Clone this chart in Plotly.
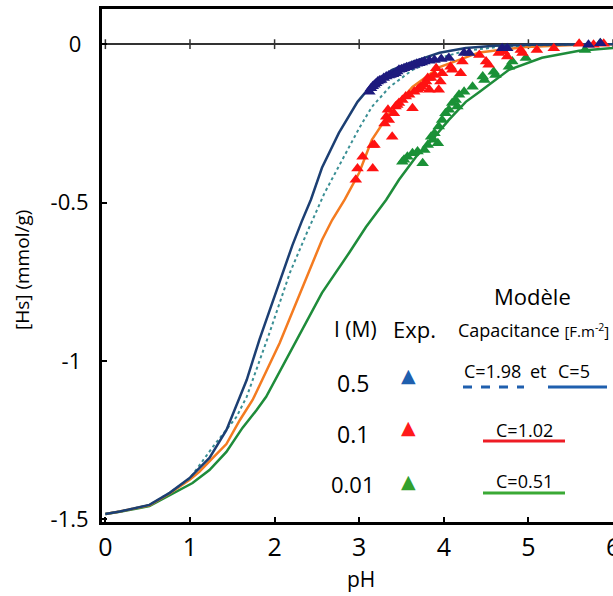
import plotly.graph_objects as go

# ---------------- data ----------------
x_ticks = [0, 1, 2, 3, 4, 5, 6]
x_tick_labels = ["0", "1", "2", "3", "4", "5", "6"]
y_ticks = [-1.5, -1, -0.5, 0]
y_tick_labels = ["-1.5", "-1\u2004", "-0.5", "0\u2004"]

# Model C=5 (I=0.5 M), solid navy
c5_x = [0, 0.17, 0.52, 0.76, 1.0, 1.23, 1.43, 1.55, 1.67, 1.82, 2.06, 2.21, 2.32, 2.43, 2.56,
        2.76, 2.98, 3.06, 3.15, 3.39, 3.63, 3.95, 4.26, 4.6, 5.0, 5.5, 6.0]
c5_y = [-1.483, -1.475, -1.454, -1.416, -1.368, -1.306, -1.218, -1.139, -1.06, -0.933, -0.753,
        -0.635, -0.56, -0.49, -0.39, -0.28, -0.182, -0.155, -0.128, -0.081, -0.056, -0.027,
        -0.012, -0.005, -0.002, -0.001, 0.0]

# Model C=1.98 (I=0.5 M), dotted
c198_x = [0, 0.17, 0.52, 0.76, 1.0, 1.27, 1.55, 1.67, 1.94, 2.18, 2.38, 2.59, 2.75, 2.88, 3.0,
          3.15, 3.36, 3.63, 3.95, 4.26, 4.6, 5.0, 5.5, 6.0]
c198_y = [-1.483, -1.475, -1.454, -1.416, -1.37, -1.271, -1.176, -1.113, -0.911, -0.722, -0.596,
          -0.47, -0.39, -0.324, -0.265, -0.198, -0.135, -0.081, -0.043, -0.021, -0.01, -0.004,
          -0.001, 0.0]

# Model C=1.02 (I=0.1 M), orange
c102_x = [0, 0.17, 0.52, 0.76, 1.0, 1.11, 1.27, 1.43, 1.59, 1.74, 2.06, 2.38, 2.56, 2.68, 2.83,
          3.0, 3.15, 3.36, 3.63, 3.95, 4.26, 4.42, 4.97, 5.6, 6.0]
c102_y = [-1.483, -1.475, -1.455, -1.418, -1.374, -1.35, -1.306, -1.262, -1.186, -1.123, -0.943,
          -0.734, -0.618, -0.555, -0.49, -0.406, -0.302, -0.217, -0.135, -0.072, -0.043, -0.026,
          -0.009, -0.002, 0.0]

# Model C=0.51 (I=0.01 M), green
c051_x = [0, 0.17, 0.52, 0.76, 1.03, 1.23, 1.43, 1.62, 1.79, 1.9, 2.26, 2.56, 2.88, 3.08, 3.32,
          3.47, 3.67, 3.86, 4.06, 4.26, 4.42, 4.77, 5.16, 5.6, 6.0]
c051_y = [-1.483, -1.476, -1.458, -1.424, -1.385, -1.344, -1.287, -1.211, -1.154, -1.113, -0.933,
          -0.785, -0.659, -0.577, -0.491, -0.428, -0.356, -0.302, -0.239, -0.182, -0.151, -0.081,
          -0.043, -0.021, -0.012]

# Experimental points
exp05_x = [3.12, 3.14, 3.16, 3.18, 3.20, 3.22, 3.24, 3.26, 3.29, 3.32, 3.35, 3.37, 3.40, 3.43,
           3.45, 3.47, 3.50, 3.53, 3.56, 3.59, 3.62, 3.65, 3.68, 3.71, 3.74, 3.77, 3.83, 3.89,
           3.97, 4.06, 4.24, 4.30, 4.69, 4.75, 5.71, 5.85]
exp05_y = [-0.15, -0.139, -0.133, -0.128, -0.123, -0.118, -0.115, -0.113, -0.107, -0.102, -0.099,
           -0.097, -0.095, -0.092, -0.086, -0.081, -0.079, -0.076, -0.073, -0.071, -0.068, -0.065,
           -0.062, -0.06, -0.058, -0.055, -0.052, -0.05, -0.047, -0.044, -0.028, -0.028, -0.013,
           -0.013, -0.002, 0.003]

exp01_x = [2.96, 2.98, 3.04, 3.16, 3.16, 3.18, 3.30, 3.32, 3.34, 3.35, 3.39, 3.41, 3.43, 3.45,
           3.47, 3.51, 3.55, 3.59, 3.63, 3.65, 3.69, 3.71, 3.73, 3.77, 3.79, 3.81, 3.83, 3.85,
           3.89, 3.91, 3.94, 3.96, 3.98, 4.08, 4.10, 4.20, 4.22, 4.42, 4.50, 4.53, 4.65, 4.71,
           4.75, 4.91, 4.93, 5.10, 5.30, 5.60, 5.77, 5.89]
exp01_y = [-0.428, -0.392, -0.355, -0.392, -0.318, -0.318, -0.25, -0.229, -0.207, -0.239, -0.292,
           -0.218, -0.197, -0.192, -0.186, -0.176, -0.165, -0.16, -0.202, -0.15, -0.144, -0.139,
           -0.134, -0.128, -0.118, -0.107, -0.144, -0.107, -0.097, -0.076, -0.144, -0.118, -0.092,
           -0.071, -0.081, -0.092, -0.055, -0.034, -0.055, -0.065, -0.028, -0.023, -0.039, -0.018,
           -0.028, -0.018, -0.013, 0.001, -0.002, 0.001]

exp001_x = [3.51, 3.53, 3.57, 3.63, 3.69, 3.75, 3.77, 3.81, 3.85, 3.87, 3.89, 3.93, 3.94, 3.98,
            4.02, 4.06, 4.10, 4.14, 4.16, 4.18, 4.24, 4.34, 4.46, 4.48, 4.59, 4.61, 4.77, 4.81,
            4.97, 5.67, 5.85]
exp001_y = [-0.371, -0.365, -0.355, -0.344, -0.339, -0.376, -0.334, -0.318, -0.292, -0.302,
            -0.281, -0.313, -0.26, -0.239, -0.218, -0.207, -0.186, -0.176, -0.197, -0.16, -0.15,
            -0.134, -0.102, -0.113, -0.087, -0.097, -0.071, -0.055, -0.044, -0.018, 0.003]

# ---------------- figure ----------------
FONT = "Open Sans, Lato, DejaVu Sans, sans-serif"
fig = go.Figure()

def line(x, y, color, dash="solid", width=2.5):
    fig.add_trace(go.Scatter(x=x, y=y, mode="lines", line=dict(color=color, width=width, dash=dash),
                             showlegend=False, hoverinfo="skip"))

def pts(x, y, color):
    fig.add_trace(go.Scatter(x=x, y=y, mode="markers",
                             marker=dict(symbol="triangle-up", size=11, color=color, line=dict(width=0)),
                             showlegend=False, hoverinfo="skip"))

# zero-line ticks
fig.add_trace(go.Scatter(x=x_ticks, y=[0] * len(x_ticks), mode="markers",
                         marker=dict(symbol="line-ns", size=7, line=dict(width=1.5, color="#333333")),
                         showlegend=False, hoverinfo="skip", cliponaxis=False))

line(c051_x, c051_y, "#1e8c3a")
line(c102_x, c102_y, "#f47b20")
line(c198_x, c198_y, "#3a8f94", dash="dot", width=2)
line(c5_x, c5_y, "#1c3f73")

pts(exp001_x, exp001_y, "#1a9137")
pts(exp01_x, exp01_y, "#ff1212")
pts(exp05_x, exp05_y, "#1e1a7e")

# ---------------- legend block (paper coords) ----------------
L, R, T, B = 102, 613, 9, 522
W, H = 613, 596

def P(px, py):
    return (px - L) / (R - L), (B - py) / (B - T)

ann = []

def text(px, py, s, size, color="black", angle=0):
    x, y = P(px, py)
    ann.append(dict(x=x, y=y, xref="paper", yref="paper", text=s, showarrow=False, textangle=angle,
                    xanchor="center", yanchor="middle", font=dict(family=FONT, size=size, color=color)))

text(532, 296, "Modèle", 22)
text(355, 329, "I (M)", 21)
text(414, 329, "Exp.", 22)
text(533, 330, "Capacitance <span style='font-size:15px'>[F.m<sup>-2</sup>]</span>", 18)
text(353, 383, "0.5", 23)
text(353, 434, "0.1", 23)
text(353, 484, "0.01", 22)
text(408, 375, "▲", 19, "#1f5fae")
text(408, 427, "▲", 19, "#ff1a1a")
text(408, 481, "▲", 19, "#33a02c")
text(492, 371, "C=1.98", 18)
text(538, 371, "et", 18)
text(574, 371, "C=5", 18)
text(524, 430, "C=1.02", 18)
text(524, 481, "C=0.51", 18)

# axis titles
text(22, 270, "[Hs] (mmol/g)", 19, angle=-90)
text(361, 579, "pH", 21)

# last x tick label, drawn at the plot edge where it is clipped
ann.append(dict(x=x_ticks[-1], y=P(0, 546)[1], xref="x", yref="paper", text=x_tick_labels[-1],
                showarrow=False, xanchor="center", yanchor="middle",
                font=dict(family=FONT, size=25, color="black")))

shapes = []

def seg(px0, px1, py, color, dash="solid"):
    x0, y0 = P(px0, py)
    x1, _ = P(px1, py)
    shapes.append(dict(type="line", xref="paper", yref="paper", x0=x0, x1=x1, y0=y0, y1=y0,
                       line=dict(color=color, width=3, dash=dash)))

seg(463, 524, 387, "#1f5fae", dash="dash")
seg(548, 607, 387, "#1f5fae")
seg(483, 565, 441, "#ee1c25")
seg(483, 565, 493, "#3aa935")

fig.update_layout(
    width=W, height=H,
    margin=dict(l=L, r=W - R, t=T, b=H - B, pad=0),
    paper_bgcolor="white", plot_bgcolor="white",
    font=dict(family=FONT, size=19, color="black"),
    annotations=ann, shapes=shapes,
    xaxis=dict(range=[-0.04, 6.0], tickvals=x_ticks, ticktext=x_tick_labels,
               ticks="inside", ticklen=5, tickwidth=2, tickcolor="black",
               showline=True, linewidth=3, linecolor="black", mirror=True,
               showgrid=False, zeroline=False, tickfont=dict(size=25),
               ticklabelstandoff=1),
    yaxis=dict(range=[-1.508, 0.111], tickvals=y_ticks, ticktext=y_tick_labels,
               ticks="inside", ticklen=5, tickwidth=2, tickcolor="black",
               showline=True, linewidth=3, linecolor="black",
               showgrid=False, zeroline=True, zerolinecolor="#333333", zerolinewidth=1.5,
               tickfont=dict(size=22), ticklabelstandoff=6),
)

fig.write_html("out.html", config={"displayModeBar": False},
               post_script="document.body.style.margin='0';document.body.style.overflow='hidden';")
